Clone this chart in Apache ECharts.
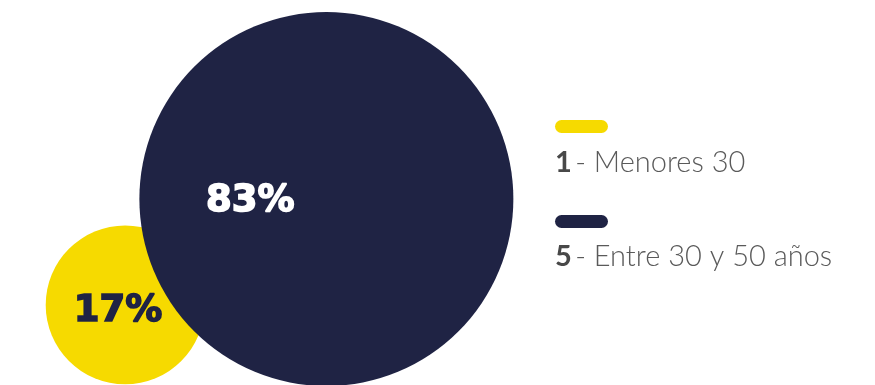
<!DOCTYPE html>
<html><head><meta charset="utf-8">
<script src="https://cdn.jsdelivr.net/npm/echarts@6/dist/echarts.min.js"></script>
<style>html,body{margin:0;padding:0;background:#fff}#c{width:875px;height:385px}</style>
</head><body><div id="c"></div>
<script>
const categories = ['Menores 30', 'Entre 30 y 50 años'];
const counts = [1, 5];
const percents = [17, 83];
const bubbleX = [14.3, 37.3];
const bubbleY = [20.8, 48.3];
const colors = ['#F6DA00', '#1F2344'];

const chart = echarts.init(document.getElementById('c'), null, {renderer: 'canvas'});
const pill = 'path://M6.5,0H46.5A6.5,6.5,0,0,1,46.5,13H6.5A6.5,6.5,0,0,1,6.5,0Z';

const series = categories.map((name, i) => {
  const txtColor = i === 0 ? colors[1] : '#ffffff';
  return {
    name: name,
    type: 'scatter',
    z: 2 + i,
    data: [[bubbleX[i], bubbleY[i], percents[i]]],
    symbolSize: v => 34.4 * Math.pow(v[2], 0.54),
    itemStyle: {color: colors[i], opacity: 1},
    emphasis: {disabled: true},
    label: {
      show: true,
      position: 'inside',
      formatter: p => p.value[2] + '%',
      offset: i === 0 ? [-7, 6] : [-76, 2],
      color: txtColor,
      textBorderColor: txtColor,
      textBorderWidth: 1.6,
      fontFamily: 'DejaVu Sans',
      fontWeight: 900,
      fontSize: 37
    }
  };
});

const legendTexts = categories.map((name, i) => ({
  type: 'text',
  left: 555,
  top: 148 + i * 94,
  style: {
    text: '{b|' + counts[i] + '} {l|- ' + name + '}',
    rich: {
      b: {fontFamily: 'Lato', fontWeight: 'bold', fontSize: 29, fill: '#484848'},
      l: {fontFamily: 'Lato', fontWeight: 300, fontSize: 29, fill: '#5a5a5a'}
    }
  }
}));

chart.setOption({
  animation: false,
  grid: {left: 0, right: 0, top: 0, bottom: 0},
  xAxis: {type: 'value', min: 0, max: 100, show: false},
  yAxis: {type: 'value', min: 0, max: 100, show: false},
  legend: {
    orient: 'vertical',
    left: 555,
    top: 120,
    padding: 0,
    icon: pill,
    itemWidth: 53,
    itemHeight: 13,
    itemGap: 82,
    selectedMode: false,
    formatter: () => '',
    data: categories
  },
  graphic: legendTexts,
  series: series
});
</script></body></html>
